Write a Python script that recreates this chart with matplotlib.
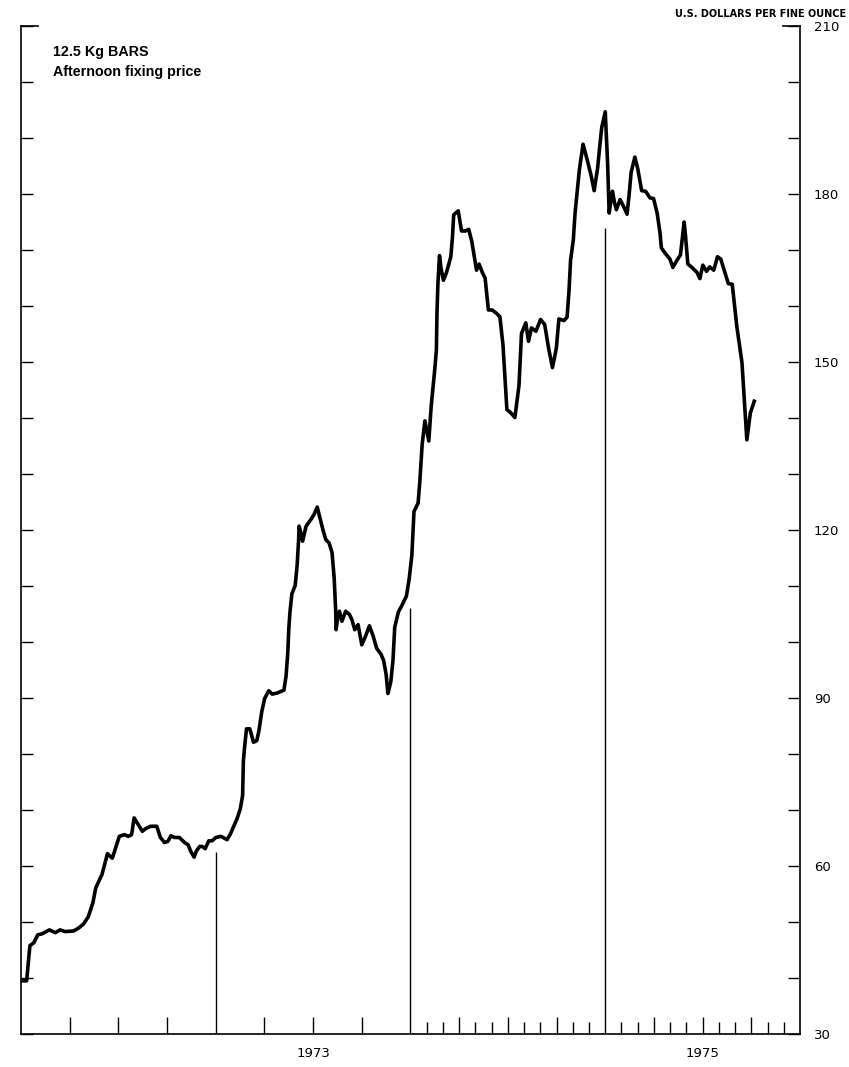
import matplotlib.pyplot as plt

# gold, 12.5 kg bars, afternoon fixing
week = [1972.008, 1972.029, 1972.046, 1972.066, 1972.086, 1972.108, 1972.146, 1972.176,
        1972.201, 1972.227, 1972.270, 1972.295, 1972.320, 1972.345, 1972.369, 1972.384,
        1972.400, 1972.416, 1972.444, 1972.469, 1972.505, 1972.531, 1972.551, 1972.568,
        1972.581, 1972.597, 1972.623, 1972.641, 1972.666, 1972.697, 1972.716, 1972.737,
        1972.754, 1972.770, 1972.788, 1972.813, 1972.840, 1972.858, 1972.872, 1972.889,
        1972.901, 1972.918, 1972.931, 1972.946, 1972.964, 1972.981, 1973.001, 1973.027,
        1973.058, 1973.075, 1973.094, 1973.110, 1973.126, 1973.138, 1973.142, 1973.148,
        1973.158, 1973.175, 1973.194, 1973.211, 1973.222, 1973.236, 1973.251, 1973.272,
        1973.290, 1973.316, 1973.350, 1973.361, 1973.370, 1973.375, 1973.381, 1973.391,
        1973.408, 1973.418, 1973.426, 1973.428, 1973.435, 1973.446, 1973.456, 1973.464,
        1973.489, 1973.505, 1973.521, 1973.535, 1973.550, 1973.565, 1973.582, 1973.597,
        1973.608, 1973.616, 1973.618, 1973.626, 1973.635, 1973.648, 1973.667, 1973.687,
        1973.699, 1973.714, 1973.731, 1973.750, 1973.770, 1973.789, 1973.808, 1973.826,
        1973.849, 1973.862, 1973.875, 1973.884, 1973.899, 1973.910, 1973.919, 1973.938,
        1973.954, 1973.979, 1973.993, 1974.007, 1974.018, 1974.039, 1974.048, 1974.060,
        1974.074, 1974.084, 1974.094, 1974.100, 1974.106, 1974.116, 1974.126, 1974.133,
        1974.136, 1974.141, 1974.149, 1974.156, 1974.169, 1974.185, 1974.207, 1974.215,
        1974.222, 1974.245, 1974.262, 1974.282, 1974.299, 1974.315, 1974.339, 1974.352,
        1974.370, 1974.383, 1974.400, 1974.420, 1974.441, 1974.459, 1974.475, 1974.495,
        1974.513, 1974.536, 1974.546, 1974.557, 1974.570, 1974.592, 1974.606, 1974.621,
        1974.644, 1974.668, 1974.689, 1974.709, 1974.729, 1974.749, 1974.762, 1974.788,
        1974.804, 1974.814, 1974.822, 1974.836, 1974.845, 1974.867, 1974.886, 1974.909,
        1974.928, 1974.943, 1974.961, 1974.972, 1974.982, 1975.000, 1975.012, 1975.020,
        1975.030, 1975.037, 1975.048, 1975.057, 1975.076, 1975.094, 1975.112, 1975.122,
        1975.133, 1975.152, 1975.167, 1975.187, 1975.207, 1975.230, 1975.248, 1975.267,
        1975.281, 1975.288, 1975.306, 1975.332, 1975.347, 1975.367, 1975.386, 1975.405,
        1975.412, 1975.424, 1975.445, 1975.471, 1975.486, 1975.501, 1975.520, 1975.536,
        1975.557, 1975.576, 1975.593, 1975.608, 1975.623, 1975.632, 1975.652, 1975.664,
        1975.675, 1975.690, 1975.702, 1975.713, 1975.727, 1975.738, 1975.745, 1975.765]
price = [39.5, 39.5, 45.8, 46.3, 47.7, 47.9, 48.6, 48.1,
         48.6, 48.3, 48.4, 48.9, 49.6, 50.9, 53.4, 56.1,
         57.3, 58.5, 62.2, 61.4, 65.3, 65.6, 65.3, 65.6,
         68.6, 67.7, 66.2, 66.7, 67.1, 67.1, 65.1, 64.2,
         64.4, 65.4, 65.1, 65.1, 64.2, 63.8, 62.6, 61.6,
         62.7, 63.5, 63.5, 63.1, 64.5, 64.5, 65.1, 65.3,
         64.7, 65.7, 67.2, 68.5, 70.2, 72.6, 78.8, 81.2,
         84.5, 84.5, 82.1, 82.4, 84.2, 87.5, 89.9, 91.3,
         90.7, 90.9, 91.4, 93.9, 98.1, 102.3, 105.3, 108.6,
         110.1, 113.7, 118.6, 120.7, 119.8, 118.0, 119.5, 120.7,
         121.9, 122.8, 124.1, 122.2, 120.1, 118.3, 117.7, 116.0,
         111.5, 105.5, 102.2, 104.3, 105.5, 103.7, 105.5, 104.9,
         104.0, 102.2, 103.1, 99.5, 101.1, 102.9, 101.1, 98.9,
         97.8, 96.7, 94.2, 90.8, 92.9, 96.7, 102.6, 105.4,
         106.4, 108.2, 111.2, 115.5, 123.3, 124.8, 128.7, 135.3,
         139.5, 137.7, 135.9, 139.0, 142.0, 145.6, 149.2, 152.2,
         158.8, 164.2, 169.0, 166.9, 164.6, 166.0, 168.8, 172.1,
         176.3, 177.0, 173.4, 173.4, 173.7, 171.5, 166.4, 167.5,
         165.9, 165.0, 159.3, 159.3, 158.7, 158.1, 153.0, 141.5,
         141.0, 140.1, 142.8, 145.8, 155.1, 157.0, 153.7, 156.1,
         155.5, 157.6, 156.7, 152.5, 149.0, 152.5, 157.7, 157.4,
         158.0, 162.8, 168.2, 171.8, 176.6, 184.3, 188.9, 185.9,
         183.2, 180.6, 184.7, 188.6, 191.9, 194.7, 185.6, 176.6,
         179.0, 180.5, 178.4, 177.2, 179.0, 177.8, 176.4, 179.7,
         183.9, 186.6, 184.5, 180.6, 180.5, 179.3, 179.2, 176.5,
         173.1, 170.4, 169.5, 168.4, 166.9, 168.1, 169.1, 175.0,
         172.6, 167.5, 166.9, 166.0, 164.9, 167.3, 166.2, 167.0,
         166.4, 168.8, 168.4, 166.7, 165.0, 164.0, 163.9, 160.1,
         156.5, 152.9, 149.9, 143.9, 136.1, 139.1, 140.9, 143.0]

year_lines = [1973, 1974, 1975]
year_line_tops = [62.5, 106, 174]
year_labels = ['1973', '1975']
year_label_pos = [1973.5, 1975.5]

plt.rcParams['font.family'] = ['DejaVu Sans']
fig = plt.figure(figsize=(8.49, 10.67), dpi=100)
ax = fig.add_axes([0.0247, 0.0309, 0.9176, 0.9447])

ax.plot(week, price, color='black', lw=2.6, solid_joinstyle='round')
ax.vlines(year_lines, 30, year_line_tops, color='black', lw=1.0)

ax.set_xlim(1972, 1976)
ax.set_ylim(30, 210)

ax.spines['top'].set_visible(False)
for s in ['left', 'right', 'bottom']:
    ax.spines[s].set_linewidth(1.2)

# quarters everywhere, months only in 1974-75
quarters = [y + q for y in range(1972, 1976) for q in (0.25, 0.5, 0.75)]
months = [y + m / 12 for y in (1974, 1975) for m in range(1, 12) if m % 3]
ax.set_xticks(quarters)
ax.set_xticks(months, minor=True)
ax.tick_params(axis='x', which='major', direction='in', length=12, width=1, labelbottom=False)
ax.tick_params(axis='x', which='minor', direction='in', length=8.5, width=1)

ax.set_yticks(range(30, 211, 30))
ax.set_yticks(range(30, 211, 10), minor=True)
ax.tick_params(axis='y', which='both', direction='in', length=8.5, width=1,
               left=True, right=True, labelleft=False, labelright=True,
               labelsize=9.5, pad=10)

# bracket ends at the top of both scales
ax.plot([0, 0.022], [1, 1], transform=ax.transAxes, color='black', lw=1.2, clip_on=False)
ax.plot([0.978, 1], [1, 1], transform=ax.transAxes, color='black', lw=1.2, clip_on=False)

for lab, pos in zip(year_labels, year_label_pos):
    ax.text(pos, -0.019, lab, transform=ax.get_xaxis_transform(),
            ha='center', va='center', fontsize=9.5)

fig.text(53 / 849, 1 - 52 / 1067, '12.5 Kg BARS', fontsize=10.3, fontweight='bold',
         family='Liberation Sans', va='center')
fig.text(53 / 849, 1 - 72 / 1067, 'Afternoon fixing price', fontsize=10.3, fontweight='bold',
         family='Liberation Sans', va='center')
fig.text(846 / 849, 1 - 14 / 1067, 'U.S. DOLLARS PER FINE OUNCE', ha='right', va='center',
         fontsize=7, fontweight='bold')

fig.savefig('out.png', dpi=100)
